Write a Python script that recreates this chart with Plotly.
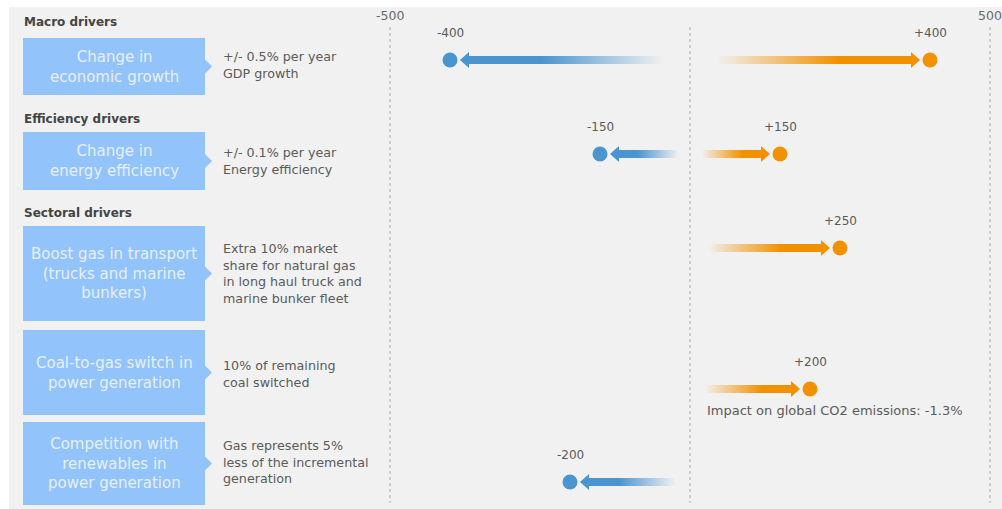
import plotly.graph_objects as go

# ---- data -------------------------------------------------------------
drivers = [
    "Change in<br>economic growth",
    "Change in<br>energy efficiency",
    "Boost gas in transport<br>(trucks and marine<br>bunkers)",
    "Coal-to-gas switch in<br>power generation",
    "Competition with<br>renewables in<br>power generation",
]
descriptions = [
    "+/- 0.5% per year<br>GDP growth",
    "+/- 0.1% per year<br>Energy efficiency",
    "Extra 10% market<br>share for natural gas<br>in long haul truck and<br>marine bunker fleet",
    "10% of remaining<br>coal switched",
    "Gas represents 5%<br>less of the incremental<br>generation",
]
group_titles = ["Macro drivers", "Efficiency drivers", "Sectoral drivers"]
low_values = [-400, -150, None, None, -200]     # blue, downside impact
high_values = [400, 150, 250, 200, None]        # orange, upside impact
axis_ticks = [-500, 0, 500]
axis_ticktext = ["-500", "", "500"]
note_text = "Impact on global CO2 emissions: -1.3%"

# ---- layout geometry (pixels) ----------------------------------------
W, H = 1002, 509
row_y = [60, 154, 248, 389, 482]
box_top = [38, 132, 226, 330, 422]
box_bot = [95, 190, 321, 415, 505]
desc_mid = [65, 161, 273, 374, 462]
title_y = [22, 119, 213]
BOX_X0, BOX_X1 = 23, 205
DESC_X = 221
GRID_TOP, GRID_BOT = 27, 503

PX_PER_UNIT = 0.6
ZERO_PX = 690
X_RANGE = [-ZERO_PX / PX_PER_UNIT, (W - ZERO_PX) / PX_PER_UNIT]

BLUE = (74, 148, 207)
ORANGE = (242, 145, 0)
BOX = "#93c3fb"
TEXT = "#5a5a5a"
FONT = "'DejaVu Sans', sans-serif"


def rgba(c, a):
    return f"rgba({c[0]},{c[1]},{c[2]},{a})"


fig = go.Figure()

# panel background
shapes = [dict(type="rect", xref="x2", yref="y", x0=9, x1=W, y0=7, y1=H,
               fillcolor="#f1f1f1", line_width=0, layer="below")]

# dotted reference lines at the axis ticks
for t in axis_ticks:
    shapes.append(dict(type="line", xref="x", yref="y", x0=t, x1=t,
                       y0=GRID_TOP, y1=GRID_BOT,
                       line=dict(color="#b4b4b4", width=1.2, dash="dot"),
                       layer="below"))

# driver boxes with a chevron on the right edge
for top, bot in zip(box_top, box_bot):
    ym = (top + bot) / 2
    path = (f"M {BOX_X0},{top} L {BOX_X1},{top} L {BOX_X1},{ym - 7} "
            f"L {BOX_X1 + 7},{ym} L {BOX_X1},{ym + 7} L {BOX_X1},{bot} "
            f"L {BOX_X0},{bot} Z")
    shapes.append(dict(type="path", xref="x2", yref="y", path=path,
                       fillcolor=BOX, line_width=0, layer="below"))

annotations = []

for t, txt in zip(axis_ticks, axis_ticktext):
    if txt:
        annotations.append(dict(x=t, y=15, xref="x", yref="y", text=txt,
                                showarrow=False, xanchor="center",
                                font=dict(family=FONT, size=12.5, color="#6a6a6a")))

for ty, title in zip(title_y, group_titles):
    annotations.append(dict(x=22, y=ty, xref="x2", yref="y",
                            text=f"<b>{title}</b>", showarrow=False,
                            xanchor="left", yanchor="middle",
                            font=dict(family=FONT, size=12, color="#444444")))

for top, bot, name, desc, dm in zip(box_top, box_bot, drivers, descriptions, desc_mid):
    ym = (top + bot) / 2
    annotations.append(dict(x=(BOX_X0 + BOX_X1) / 2, y=ym, xref="x2", yref="y",
                            text=name, showarrow=False, align="center",
                            xanchor="center", yanchor="middle",
                            font=dict(family=FONT, size=15, color="#e6f0fd")))
    annotations.append(dict(x=DESC_X, y=dm, xref="x2", yref="y",
                            text=desc, showarrow=False, align="left",
                            xanchor="left", yanchor="middle",
                            font=dict(family=FONT, size=12.7, color=TEXT)))

# gradient arrows, end dots and value labels
TAIL_FRAC, TAIL_PAD = 0.1, 4   # arrow tail sits a little way out from zero
GAP = 10 / PX_PER_UNIT         # gap between arrow tip and dot
HEAD = 9 / PX_PER_UNIT         # arrowhead length
SHAFT, HEADH = 4.0, 8.0        # half-heights in px


def arrow(v, y, color):
    s = 1 if v > 0 else -1
    tail = v * TAIL_FRAC + s * TAIL_PAD
    tip = v - s * GAP
    neck = tip - s * HEAD
    xs = [tail, neck, neck, tip, neck, neck, tail, tail]
    ys = [y - SHAFT, y - SHAFT, y - HEADH, y, y + HEADH, y + SHAFT, y + SHAFT, y - SHAFT]
    if s > 0:
        scale = [[0, rgba(color, 0.0)], [0.6, rgba(color, 1)], [1, rgba(color, 1)]]
    else:
        scale = [[0, rgba(color, 1)], [0.4, rgba(color, 1)], [1, rgba(color, 0.0)]]
    fig.add_trace(go.Scatter(
        x=xs, y=ys, mode="lines", fill="toself", line=dict(width=0),
        fillgradient=dict(type="horizontal", colorscale=scale,
                          start=min(tail, tip), stop=max(tail, tip)),
        hoverinfo="skip", showlegend=False))


for values, color in ((low_values, BLUE), (high_values, ORANGE)):
    for v, y in zip(values, row_y):
        if v is None:
            continue
        arrow(v, y, color)
        fig.add_trace(go.Scatter(
            x=[v], y=[y], mode="markers",
            marker=dict(size=15, color=rgba(color, 1), line_width=0),
            hoverinfo="skip", showlegend=False))
        annotations.append(dict(x=v, y=y - 27, xref="x", yref="y",
                                text=f"{v:+d}", showarrow=False,
                                xanchor="center", yanchor="middle",
                                font=dict(family=FONT, size=12, color=TEXT)))

annotations.append(dict(x=705, y=410, xref="x2", yref="y", text=note_text,
                        showarrow=False, xanchor="left", yanchor="middle",
                        font=dict(family=FONT, size=13, color=TEXT)))

fig.update_layout(
    width=W, height=H,
    margin=dict(l=0, r=0, t=0, b=0),
    paper_bgcolor="white", plot_bgcolor="rgba(0,0,0,0)",
    xaxis=dict(range=X_RANGE, visible=False, fixedrange=True),
    xaxis2=dict(range=[0, W], overlaying="x", visible=False, fixedrange=True),
    yaxis=dict(range=[H, 0], visible=False, fixedrange=True),
    shapes=shapes, annotations=annotations,
    showlegend=False,
)

fig.write_html("out.html")
